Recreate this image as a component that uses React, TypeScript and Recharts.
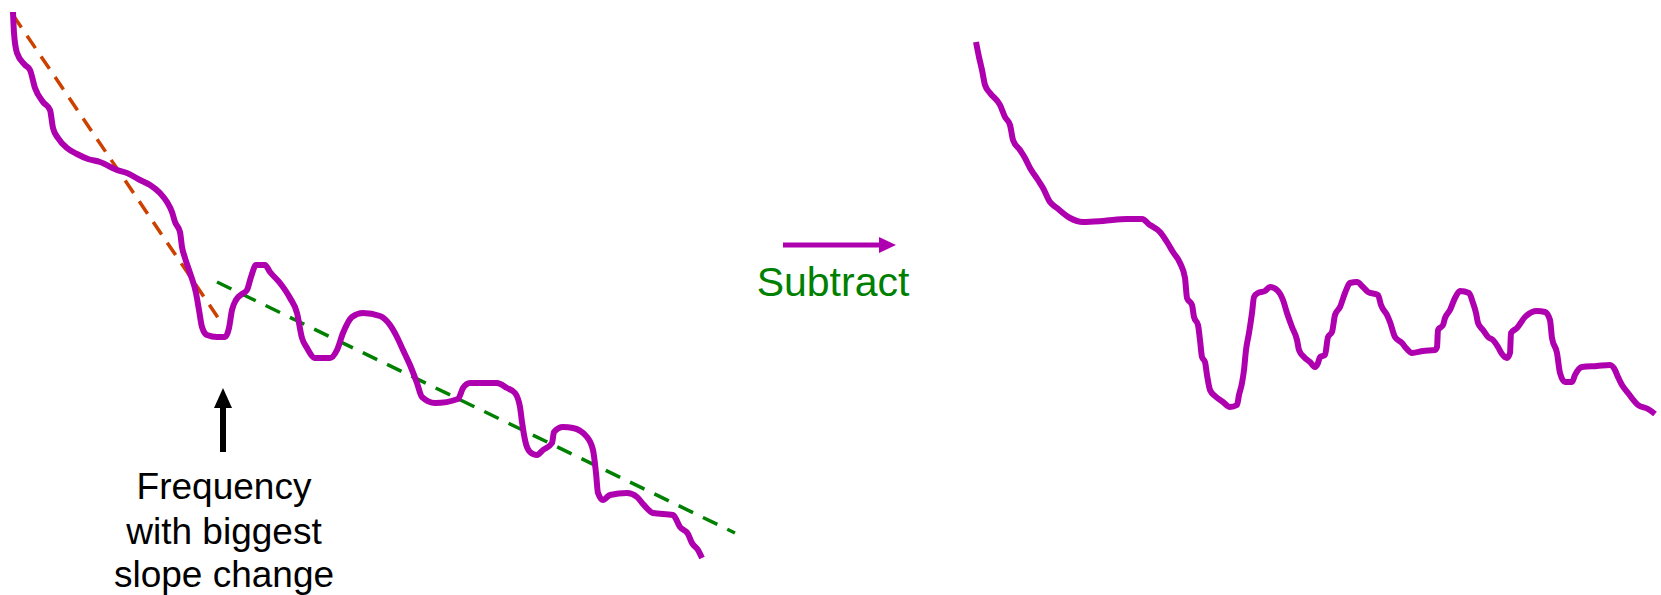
import { ComposedChart, Line, XAxis, YAxis, ReferenceDot } from "recharts";

const PURPLE = "#ae00ae";
const ORANGE = "#cc4000";
const GREEN = "#008000";
const INK = "#000000";
const FONT = "'Liberation Sans', Arial, sans-serif";

// diagram space: x = frequency position, y = depth from top (axis reversed)
const spectrumX = [
  13, 14, 17, 25, 30, 35, 43, 50, 53, 58, 67, 77, 88, 100, 117, 127, 140, 150, 160, 167, 172, 175, 180, 182, 185, 190,
  196, 199, 202, 207, 217, 225, 229, 232, 236, 242, 247, 251, 256, 265, 270, 280, 290, 297, 302, 307, 315, 330, 337,
  343, 352, 363, 380, 390, 397, 403, 410, 417, 422, 435, 458, 463, 470, 497, 507, 515, 520, 522, 525, 530, 537, 543,
  552, 554, 563, 573, 587, 593, 596, 598, 603, 610, 627, 637, 643, 653, 673, 680, 688, 692, 698, 702,
];
const spectrumY = [
  12, 33, 53, 65, 70, 88, 102, 110, 128, 138, 148, 154, 159, 162, 170, 173, 180, 185, 193, 202, 212, 222, 232, 247, 258,
  273, 293, 310, 327, 335, 337, 337, 328, 310, 300, 294, 290, 277, 265, 265, 272, 283, 298, 313, 338, 348, 358, 358,
  350, 333, 317, 313, 316, 325, 337, 350, 365, 383, 397, 403, 399, 388, 383, 383, 388, 393, 407, 422, 440, 452, 455,
  450, 443, 432, 427, 428, 437, 450, 473, 493, 500, 495, 493, 497, 504, 513, 515, 527, 534, 543, 550, 558,
];

const residualX = [
  976, 979, 982, 985, 990, 1000, 1005, 1010, 1013, 1020, 1025, 1030, 1038, 1043, 1050, 1057, 1070, 1083, 1103, 1127,
  1142, 1150, 1160, 1167, 1173, 1180, 1185, 1187, 1192, 1194, 1198, 1200, 1202, 1205, 1207, 1210, 1215, 1223, 1230,
  1237, 1239, 1242, 1244, 1246, 1249, 1252, 1254, 1258, 1265, 1270, 1277, 1283, 1287, 1292, 1297, 1299, 1304, 1310,
  1315, 1318, 1320, 1325, 1328, 1332, 1335, 1340, 1345, 1350, 1357, 1363, 1368, 1378, 1381, 1387, 1390, 1395, 1402,
  1406, 1412, 1423, 1435, 1437, 1438, 1443, 1445, 1450, 1455, 1460, 1469, 1473, 1476, 1478, 1483, 1488, 1493, 1498,
  1502, 1507, 1510, 1511, 1517, 1525, 1537, 1545, 1550, 1552, 1557, 1560, 1565, 1572, 1575, 1582, 1597, 1610, 1615,
  1618, 1622, 1628, 1638, 1648, 1655,
];
const residualY = [
  42, 57, 70, 85, 93, 105, 117, 125, 140, 150, 158, 168, 180, 188, 202, 208, 218, 222, 221, 219, 219, 225, 232, 242,
  252, 263, 278, 298, 305, 317, 325, 340, 357, 362, 375, 390, 396, 402, 407, 405, 395, 383, 370, 350, 333, 313, 297,
  293, 291, 287, 290, 300, 313, 327, 340, 350, 357, 362, 367, 363, 357, 355, 337, 332, 315, 307, 293, 283, 282, 287,
  292, 295, 305, 315, 322, 337, 343, 348, 353, 351, 350, 347, 330, 325, 318, 310, 298, 291, 293, 303, 313, 323, 330,
  337, 340, 347, 354, 358, 353, 333, 328, 317, 311, 312, 320, 338, 353, 373, 382, 382, 375, 367, 366, 365, 370, 377,
  385, 393, 405, 409, 414,
];

const steepFitX = [13, 223];
const steepFitY = [15, 325];
const shallowFitX = [217, 735];
const shallowFitY = [282, 533];

const pointerX = [223, 223];
const pointerY = [452, 404];
const subtractX = [783, 880];
const subtractY = [245, 245];

const captionLines = ["Frequency", "with biggest", "slope change"];
const captionY = [499, 544, 587];
const operationLabel = "Subtract";

const zip = (xs: number[], ys: number[]) => xs.map((x, i) => ({ x, y: ys[i] }));

const spectrum = zip(spectrumX, spectrumY);
const residual = zip(residualX, residualY);
const steepFit = zip(steepFitX, steepFitY);
const shallowFit = zip(shallowFitX, shallowFitY);
const pointer = zip(pointerX, pointerY);
const subtract = zip(subtractX, subtractY);

const upHead = (color: string) => (p: any) =>
  <polygon points={`${p.cx},${p.cy} ${p.cx - 9},${p.cy + 20} ${p.cx + 9},${p.cy + 20}`} fill={color} />;
const rightHead = (color: string) => (p: any) =>
  <polygon points={`${p.cx},${p.cy} ${p.cx - 17},${p.cy - 8} ${p.cx - 17},${p.cy + 8}`} fill={color} />;

const plain = { dot: false, activeDot: false, isAnimationActive: false, dataKey: "y" } as const;

export default function App() {
  return (
    <div style={{ position: "absolute", left: 0, top: 0, width: 1661, height: 595, background: "#fff" }}>
      <ComposedChart width={1661} height={595} margin={{ top: 0, right: 0, bottom: 0, left: 0 }}>
        <XAxis dataKey="x" type="number" domain={[0, 1661]} hide allowDataOverflow />
        <YAxis type="number" domain={[0, 595]} reversed hide allowDataOverflow />
        <Line {...plain} data={steepFit} type="linear" stroke={ORANGE} strokeWidth={3.5} strokeDasharray="15 10" />
        <Line {...plain} data={shallowFit} type="linear" stroke={GREEN} strokeWidth={3.5} strokeDasharray="16 11" />
        <Line {...plain} data={spectrum} type="monotone" stroke={PURPLE} strokeWidth={6} strokeLinejoin="round" />
        <Line {...plain} data={residual} type="monotone" stroke={PURPLE} strokeWidth={6} strokeLinejoin="round" />
        <Line {...plain} data={pointer} type="linear" stroke={INK} strokeWidth={6} />
        <Line {...plain} data={subtract} type="linear" stroke={PURPLE} strokeWidth={5} />
        <ReferenceDot x={223} y={388} shape={upHead(INK)} />
        <ReferenceDot x={896} y={245} shape={rightHead(PURPLE)} />
        {captionLines.map((t, i) => (
          <ReferenceDot
            key={t}
            x={224}
            y={captionY[i]}
            shape={(p: any) => (
              <text x={p.cx} y={p.cy} textAnchor="middle" fontFamily={FONT} fontSize={37} fill={INK}>
                {t}
              </text>
            )}
          />
        ))}
        <ReferenceDot
          x={833}
          y={296}
          shape={(p: any) => (
            <text x={p.cx} y={p.cy} textAnchor="middle" fontFamily={FONT} fontSize={41} fill={GREEN}>
              {operationLabel}
            </text>
          )}
        />
      </ComposedChart>
    </div>
  );
}
